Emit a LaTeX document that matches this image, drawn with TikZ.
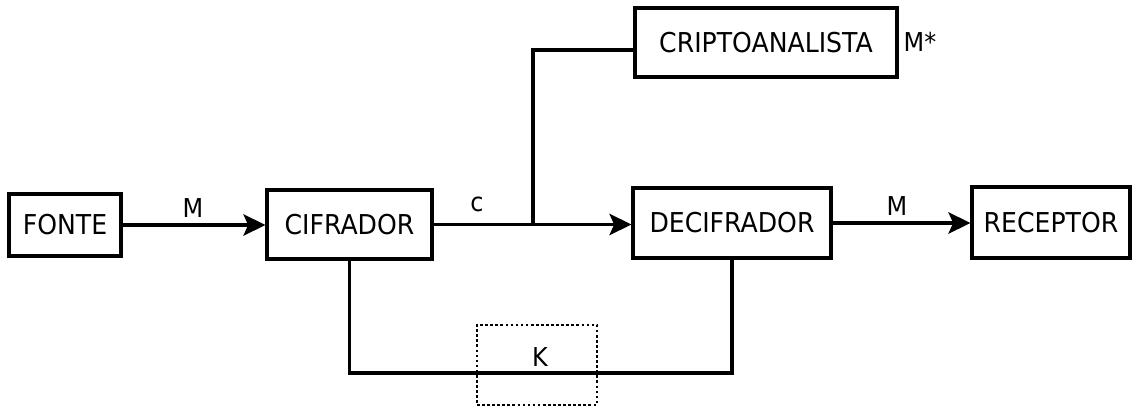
\documentclass[tikz,border=0pt]{standalone}
\usepackage{fontspec}
\setmainfont{DejaVu Sans}[FakeStretch=0.92]
\usetikzlibrary{arrows.meta}
\begin{document}
\begin{tikzpicture}[x=0.75pt,y=-0.75pt,
  blk/.style={draw,line width=2.3pt,inner sep=0pt,font=\fontsize{20.5}{24}\selectfont},
  lbl/.style={inner sep=0pt,font=\fontsize{19.5}{23}\selectfont},
  conn/.style={line width=2.5pt},
  arr/.style={conn,-{Stealth[length=16.5pt,width=16pt,inset=3.5pt]}},
  keybox/.style={draw,line width=2.2pt,dash pattern=on 2pt off 1.8pt,inner sep=0pt}]
\useasboundingbox (0,0) rectangle (1136,410);
\node[blk,minimum width=112*0.75pt,minimum height=62*0.75pt] (fonte) at (65,225) {FONTE};
\node[blk,minimum width=165*0.75pt,minimum height=69*0.75pt] (cif) at (349.5,224.5) {CIFRADOR};
\node[blk,minimum width=198*0.75pt,minimum height=70*0.75pt] (dec) at (732,223) {DECIFRADOR};
\node[blk,minimum width=158*0.75pt,minimum height=71*0.75pt] (rec) at (1051,222.5) {RECEPTOR};
\node[blk,minimum width=262*0.75pt,minimum height=69*0.75pt] (cri) at (766,42.5) {CRIPTOANALISTA};
\node[keybox,minimum width=120*0.75pt,minimum height=80*0.75pt] (kbox) at (537,365) {};
\node[lbl] (klbl) at (540,357) {K};
\coordinate (j) at (533,224.5);
\coordinate (criin) at (635,50);
\coordinate (kline) at (537,373);
\draw[arr] (fonte.east) -- (fonte.east -| cif.west);
\draw[arr] (cif.east) -- (cif.east -| dec.west);
\draw[arr] (dec.east) -- (dec.east -| rec.west);
\draw[conn] (j) |- (criin);
\draw[conn] (cif.south) |- (kline) -| (dec.south);
\node[lbl] (m1) at (193,208) {M};
\node[lbl] (c1) at (477,204) {c};
\node[lbl] (m2) at (897,206) {M};
\node[lbl] (ms) at (920,42) {M*};
\end{tikzpicture}
\end{document}
